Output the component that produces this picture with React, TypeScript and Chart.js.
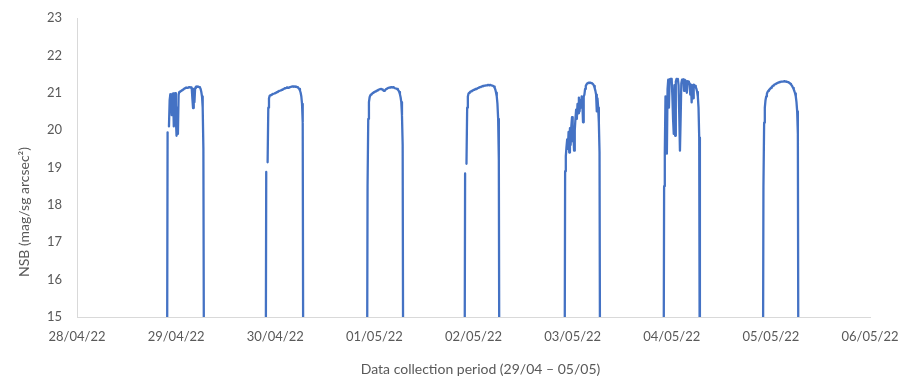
import { useEffect, useRef } from 'react';
import { Chart, registerables } from 'chart.js';

Chart.register(...registerables);

// Axis labels
const xTickLabels = [
  '28/04/22', '29/04/22', '30/04/22', '01/05/22', '02/05/22',
  '03/05/22', '04/05/22', '05/05/22', '06/05/22',
];
const yMin = 15;
const yMax = 23;
const xTitle = 'Data collection period (29/04 \u2013 05/05)';
const yTitle = 'NSB (mag/sg arcsec\u00B2)';

// Each night: day index of the evening (0 = 28/04/22) and first reading time
const nightDay = [0, 1, 2, 3, 4, 5, 6];
const nightStartTime = ['21:46', '21:39', '22:11', '21:48', '22:01', '21:59', '22:02'];
const SAMPLE_MINUTES = 10;

// Sky brightness readings (mag/arcsec²), one every 10 minutes; null = missing reading
const night0429 = [
  11.0, 19.94, null, 20.1, 20.8, 20.96, 20.95, 20.4, 20.97, 20.98,
  20.1, 20.9, 20.99, 20.3, 19.85, 20.6, 19.9, 20.95, 21.02, 21.03,
  21.04, 21.05, 21.07, 21.08, 21.09, 21.11, 21.12, 21.13, 21.14, 21.14,
  21.13, 21.14, 21.15, 21.15, 21.14, 21.15, 21.14, 20.85, 20.59, 21.1,
  20.75, 21.12, 21.16, 21.17, 21.16, 21.17, 21.16, 21.15, 21.14, 21.1,
  21.02, 20.9, 20.6, 19.5, 12.0,
];
const night0430 = [
  11.0, 18.88, null, 19.14, 20.6, 20.85, 20.92, 20.93, 20.94, 20.95,
  20.96, 20.97, 20.97, 20.98, 20.99, 21.0, 21.01, 21.02, 21.03, 21.04,
  21.05, 21.05, 21.06, 21.07, 21.08, 21.09, 21.1, 21.11, 21.12, 21.12,
  21.13, 21.14, 21.14, 21.13, 21.14, 21.15, 21.15, 21.16, 21.16, 21.17,
  21.17, 21.16, 21.17, 21.16, 21.17, 21.16, 21.15, 21.14, 21.12, 21.1,
  21.06, 21.0, 20.9, 20.7, 20.2, 11.0,
];
const night0501 = [
  11.0, 18.5, 20.3, 20.75, 20.88, 20.93, 20.95, 20.97, 20.98, 21.0,
  21.01, 21.02, 21.03, 21.04, 21.05, 21.06, 21.07, 21.08, 21.09, 21.09,
  21.1, 21.1, 21.09, 21.08, 21.06, 21.05, 21.06, 21.08, 21.1, 21.11,
  21.12, 21.13, 21.13, 21.14, 21.14, 21.15, 21.15, 21.14, 21.15, 21.14,
  21.13, 21.12, 21.12, 21.11, 21.1, 21.08, 21.06, 21.02, 20.96, 20.88,
  20.75, 20.4, 19.6, 11.0,
];
const night0502 = [
  11.0, 18.84, null, 19.1, 20.6, 20.9, 20.98, 21.0, 21.02, 21.03,
  21.04, 21.05, 21.06, 21.07, 21.08, 21.09, 21.1, 21.1, 21.11, 21.12,
  21.13, 21.14, 21.15, 21.15, 21.16, 21.17, 21.17, 21.18, 21.18, 21.19,
  21.19, 21.2, 21.2, 21.2, 21.21, 21.21, 21.2, 21.21, 21.21, 21.2,
  21.2, 21.19, 21.18, 21.16, 21.13, 21.08, 21.0, 20.9, 20.7, 20.3,
  19.2, 11.0,
];
const night0503 = [
  11.0, 18.9, 19.3, 19.55, 19.75, 19.5, 19.95, 19.4, 20.05,
  19.6, 20.1, 20.35, 19.7, 19.9, 19.45, 20.0, 20.3, 20.55, 20.3,
  20.7, 20.45, 20.87, 20.5, 20.8, 20.6, 20.9, 20.75, 20.21, 20.9,
  20.95, 21.1, 21.18, 21.22, 21.25, 21.26, 21.27, 21.27, 21.26, 21.27,
  21.26, 21.25, 21.24, 21.22, 21.18, 21.12, 21.05, 20.95, 20.5, 20.85,
  20.6, 20.2, 19.4, 11.0,
];
const night0504 = [
  11.0, 18.5, 19.37, 20.9, 20.2, 19.37, 21.1, 21.35, 20.6, 21.36,
  21.37, 21.3, 21.37, 20.9, 20.3, 19.9, 21.2, 19.85, 21.3, 21.37,
  21.36, 21.37, 21.2, 20.4, 19.45, 20.3, 21.25, 21.35, 21.3, 21.36,
  21.05, 21.35, 21.33, 21.3, 21.0, 21.31, 21.3, 21.28, 21.25, 20.95,
  21.22, 20.74, 21.2, 20.85, 21.22, 21.2, 21.18, 21.15, 21.1, 21.02,
  20.9, 20.6, 19.8, 11.0,
];
const night0505 = [
  11.0, 18.5, 20.2, 20.6, 20.8, 20.9, 20.97, 21.02, 21.05, 21.07,
  21.09, 21.11, 21.13, 21.15, 21.17, 21.19, 21.2, 21.22, 21.23, 21.24,
  21.25, 21.26, 21.27, 21.28, 21.28, 21.29, 21.29, 21.3, 21.3, 21.3,
  21.3, 21.31, 21.3, 21.3, 21.3, 21.29, 21.29, 21.28, 21.27, 21.26,
  21.24, 21.22, 21.2, 21.17, 21.13, 21.09, 21.04, 20.98, 20.9, 20.75,
  20.5, 19.9, 11.0,
];

const nights = [night0429, night0430, night0501, night0502, night0503, night0504, night0505];

function buildPoints() {
  const pts: { x: number; y: number | null }[] = [];
  nights.forEach((vals, k) => {
    const [h, m] = nightStartTime[k].split(':').map(Number);
    const start = nightDay[k] + (h * 60 + m) / 1440;
    vals.forEach((v, i) => pts.push({ x: start + (i * SAMPLE_MINUTES) / 1440, y: v }));
    // break the line between nights
    pts.push({ x: start + (vals.length * SAMPLE_MINUTES) / 1440, y: null });
  });
  return pts;
}

const TEXT = '#595959';
const AXIS = '#d9d9d9';
const FONT = 'Lato, "Open Sans", sans-serif';

const axisTitles = {
  id: 'axisTitles',
  afterDraw(chart: any) {
    const { ctx, chartArea } = chart;
    ctx.save();
    ctx.fillStyle = TEXT;
    ctx.font = `14px ${FONT}`;
    ctx.textAlign = 'center';
    ctx.textBaseline = 'middle';
    ctx.fillText(xTitle, (chartArea.left + chartArea.right) / 2 + 7, 369);
    ctx.translate(24, chartArea.bottom - 105);
    ctx.rotate(-Math.PI / 2);
    ctx.fillText(yTitle, 0, 0);
    ctx.restore();
  },
};

export default function App() {
  const ref = useRef<HTMLCanvasElement>(null);

  useEffect(() => {
    if (!ref.current) return;
    const chart = new Chart(ref.current, {
      type: 'line',
      data: {
        datasets: [
          {
            data: buildPoints() as any,
            borderColor: '#4472C4',
            borderWidth: 2.3,
            borderJoinStyle: 'round',
            borderCapStyle: 'round',
            pointRadius: 0,
            tension: 0,
            spanGaps: false,
            fill: false,
          },
        ],
      },
      options: {
        animation: false,
        responsive: false,
        events: [],
        layout: { padding: { top: 18, right: 32, left: 0, bottom: 0 } },
        plugins: { legend: { display: false }, tooltip: { enabled: false } },
        scales: {
          x: {
            type: 'linear',
            min: 0,
            max: xTickLabels.length - 1,
            afterFit: (s: any) => {
              s.height = 66;
              s.paddingLeft = 0;
              s.paddingRight = 0;
            },
            ticks: {
              stepSize: 1,
              autoSkip: false,
              maxRotation: 0,
              padding: 12,
              color: TEXT,
              font: { family: FONT, size: 13 },
              callback: (v: any) => xTickLabels[Math.round(Number(v))] ?? '',
            },
            grid: { display: true, color: 'rgba(0,0,0,0)', drawTicks: false },
            border: { display: true, color: AXIS, width: 1 },
          },
          y: {
            type: 'linear',
            min: yMin,
            max: yMax,
            afterFit: (s: any) => {
              s.width = 77;
              s.paddingTop = 0;
              s.paddingBottom = 0;
            },
            ticks: {
              stepSize: 1,
              padding: 15,
              color: TEXT,
              font: { family: FONT, size: 13 },
            },
            grid: { display: true, color: 'rgba(0,0,0,0)', drawTicks: false },
            border: { display: true, color: AXIS, width: 1 },
          },
        },
      },
      plugins: [axisTitles],
    });
    return () => chart.destroy();
  }, []);

  return (
    <div style={{ position: 'fixed', left: 0, top: 0, width: 902, height: 383, background: '#fff' }}>
      <canvas ref={ref} width={902} height={383} style={{ display: 'block' }} />
    </div>
  );
}
